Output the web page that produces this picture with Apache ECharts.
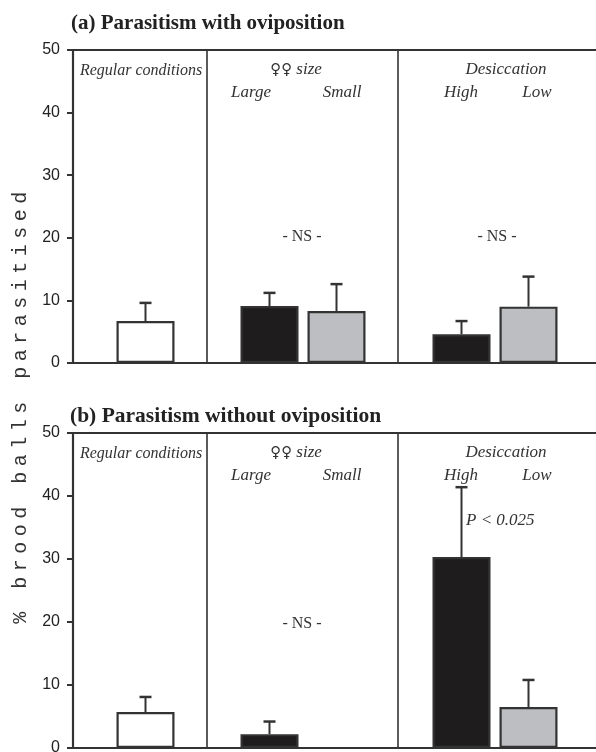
<!DOCTYPE html>
<html>
<head>
<meta charset="utf-8">
<script src="https://cdn.jsdelivr.net/npm/echarts@6/dist/echarts.min.js"></script>
<style>html,body{margin:0;padding:0;background:#fff;}#c{width:596px;height:752px;}</style>
</head>
<body>
<div id="c"></div>
<script>
// ---- data ----
const titles = ['(a) Parasitism with oviposition', '(b) Parasitism without oviposition'];
const groupLabels = ['Regular conditions', '\u2640\u2640', 'size', 'Desiccation'];
const regularCats = ['Regular'];
const sizeCats = ['Large', 'Small'];
const desCats = ['High', 'Low'];
const yTicks = [0, 10, 20, 30, 40, 50];
const yLabel = '% brood balls parasitised';
// panel (a)
const regularA = [6.7], regularErrA = [2.9];
const sizeA = [9.1, 8.3], sizeErrA = [2.1, 4.3];
const desA = [4.6, 9.0], desErrA = [2.1, 4.8];
// panel (b)
const regularB = [5.7], regularErrB = [2.4];
const sizeB = [2.2, 0], sizeErrB = [2.0, 0];
const desB = [30.3, 6.5], desErrB = [11.1, 4.3];
const sigTexts = ['- NS -', 'P < 0.025'];

// letter-spaced axis title (drawn by ECharts, spacing added at canvas level)
const origFill = CanvasRenderingContext2D.prototype.fillText;
CanvasRenderingContext2D.prototype.fillText = function (t, x, y, m) {
  if (t === yLabel && 'letterSpacing' in this) {
    this.save();
    this.letterSpacing = '5.5px';
    const r = origFill.apply(this, arguments);
    this.restore();
    return r;
  }
  return origFill.apply(this, arguments);
};

const INK = '#333';
const BLACK = '#1e1c1d';
const GREY = '#bdbec1';
const WHITE = '#ffffff';

const panels = [
  { top: 50, height: 313, reg: regularA, regE: regularErrA, size: sizeA, sizeE: sizeErrA, des: desA, desE: desErrA },
  { top: 433, height: 315, reg: regularB, regE: regularErrB, size: sizeB, sizeE: sizeErrB, des: desB, desE: desErrB }
];

const grid = [], xAxis = [], yAxis = [], series = [];

function errSeries(gi, vals, errs) {
  return {
    type: 'custom', xAxisIndex: gi, yAxisIndex: gi, z: 5,
    data: vals.map((v, i) => [i, v, errs[i]]),
    renderItem: function (params, api) {
      const v = api.value(1), e = api.value(2);
      if (!e) return null;
      const p0 = api.coord([api.value(0), v]);
      const p1 = api.coord([api.value(0), v + e]);
      return {
        type: 'group',
        children: [
          { type: 'line', shape: { x1: p0[0], y1: p0[1], x2: p1[0], y2: p1[1] }, style: { stroke: INK, lineWidth: 2 } },
          { type: 'line', shape: { x1: p1[0] - 6, y1: p1[1], x2: p1[0] + 6, y2: p1[1] }, style: { stroke: INK, lineWidth: 2.5 } }
        ]
      };
    }
  };
}

function barSeries(gi, vals, colors) {
  return {
    type: 'bar', xAxisIndex: gi, yAxisIndex: gi, barWidth: 58, z: 3,
    data: vals.map((v, i) => ({ value: v, itemStyle: { color: colors[i], borderColor: INK, borderWidth: v ? 2.2 : 0 } }))
  };
}

panels.forEach((p, pi) => {
  const base = pi * 5;
  const common = { top: p.top, height: p.height, containLabel: false, outerBoundsMode: 'none' };
  grid.push(Object.assign({ left: 73, width: 560 }, common));
  grid.push(Object.assign({ left: 207, width: 191, show: true, borderColor: INK, borderWidth: 1.6, backgroundColor: 'transparent' }, common));
  grid.push(Object.assign({ left: 112, width: 67 }, common));
  grid.push(Object.assign({ left: 236, width: 134 }, common));
  grid.push(Object.assign({ left: 428, width: 134 }, common));
  const xd = [[''], [''], regularCats, sizeCats, desCats];
  for (let k = 0; k < 5; k++) {
    xAxis.push({ type: 'category', gridIndex: base + k, data: xd[k], show: k === 0, position: 'bottom',
      axisLine: { show: true, lineStyle: { color: INK, width: 2 } }, axisTick: { show: false }, axisLabel: { show: false } });
    yAxis.push({
      type: 'value', gridIndex: base + k, min: yTicks[0], max: yTicks[yTicks.length - 1], interval: 10,
      show: k === 0,
      axisLine: { show: true, lineStyle: { color: INK, width: 2.2 } },
      axisTick: { show: true, length: 6, lineStyle: { color: INK, width: 2 } },
      axisLabel: { show: true, margin: 13, color: '#222', fontSize: 16, fontFamily: 'Liberation Sans',
        formatter: v => (yTicks.indexOf(v) >= 0 ? String(v) : '') },
      splitLine: { show: false }
    });
  }
});
// top frame lines
panels.forEach((p, pi) => {
  xAxis.push({ type: 'category', gridIndex: pi * 5, data: [''], position: 'top',
    axisLine: { show: true, lineStyle: { color: INK, width: 2 } }, axisTick: { show: false }, axisLabel: { show: false } });
});

panels.forEach((p, pi) => {
  const base = pi * 5;
  series.push(barSeries(base + 2, p.reg, [WHITE]));
  series.push(errSeries(base + 2, p.reg, p.regE));
  series.push(barSeries(base + 3, p.size, [BLACK, GREY]));
  series.push(errSeries(base + 3, p.size, p.sizeE));
  series.push(barSeries(base + 4, p.des, [BLACK, GREY]));
  series.push(errSeries(base + 4, p.des, p.desE));
});

const it = { fontFamily: 'Liberation Serif', fontStyle: 'italic', fontSize: 17, fill: '#333', textAlign: 'center', textVerticalAlign: 'middle' };
const graphic = [];
panels.forEach((p, pi) => {
  const T = p.top;
  graphic.push({ type: 'text', x: 141, y: T + 21, style: Object.assign({}, it, { text: groupLabels[0], fontSize: 16 }) });
  graphic.push({ type: 'text', x: 296, y: T + 20, style: Object.assign({}, it, {
    text: '{s|' + groupLabels[1] + '} ' + groupLabels[2],
    rich: { s: { fontFamily: 'DejaVu Sans', fontStyle: 'normal', fontSize: 15, fill: '#333' } } }) });
  graphic.push({ type: 'text', x: 251, y: T + 43, style: Object.assign({}, it, { text: sizeCats[0] }) });
  graphic.push({ type: 'text', x: 342, y: T + 43, style: Object.assign({}, it, { text: sizeCats[1] }) });
  graphic.push({ type: 'text', x: 506, y: T + 20, style: Object.assign({}, it, { text: groupLabels[3] }) });
  graphic.push({ type: 'text', x: 461, y: T + 43, style: Object.assign({}, it, { text: desCats[0] }) });
  graphic.push({ type: 'text', x: 537, y: T + 43, style: Object.assign({}, it, { text: desCats[1] }) });
});
const ns = { fontFamily: 'Liberation Serif', fontSize: 16, fill: '#333', textAlign: 'center', textVerticalAlign: 'middle', text: sigTexts[0] };
graphic.push({ type: 'text', x: 302, y: 237, style: Object.assign({}, ns) });
graphic.push({ type: 'text', x: 497, y: 237, style: Object.assign({}, ns) });
graphic.push({ type: 'text', x: 302, y: 624, style: Object.assign({}, ns) });
graphic.push({ type: 'text', x: 466, y: 521, style: Object.assign({}, it, { text: sigTexts[1], textAlign: 'left' }) });
graphic.push({ type: 'text', x: 21, y: 405, rotation: Math.PI / 2,
  style: { text: yLabel, fontFamily: 'Liberation Mono', fontSize: 20, fill: '#333', textAlign: 'center', textVerticalAlign: 'middle' } });

const chart = echarts.init(document.getElementById('c'), null, { renderer: 'canvas' });
chart.setOption({
  animation: false,
  backgroundColor: '#fff',
  title: [
    { text: titles[0], left: 66, top: 8, textStyle: { fontFamily: 'Liberation Serif', fontWeight: 'bold', fontSize: 21, color: '#222' } },
    { text: titles[1], left: 65, top: 400, textStyle: { fontFamily: 'Liberation Serif', fontWeight: 'bold', fontSize: 21.5, color: '#222' } }
  ],
  grid, xAxis, yAxis, series, graphic
});
</script>
</body>
</html>
